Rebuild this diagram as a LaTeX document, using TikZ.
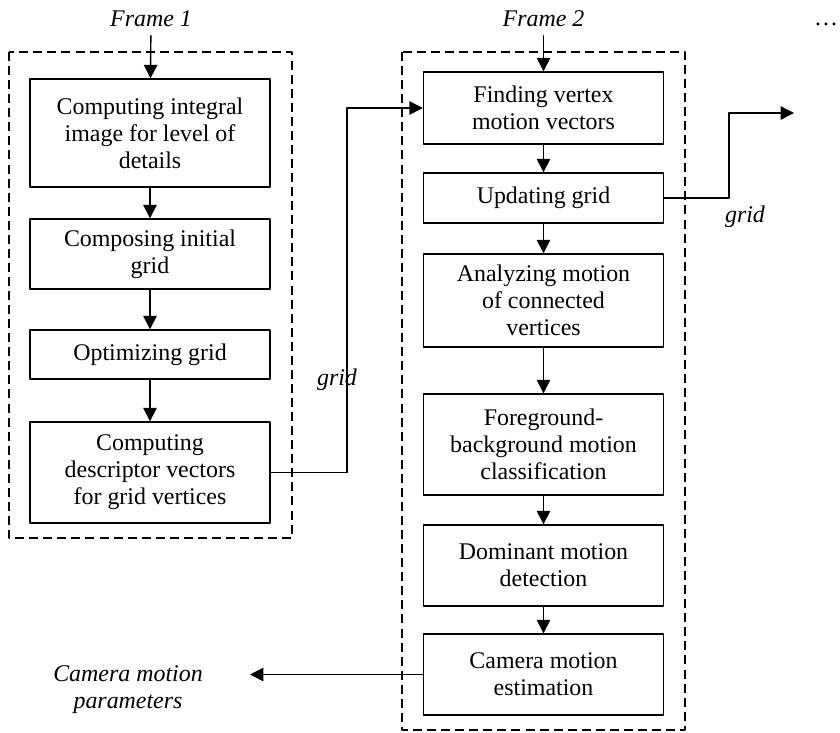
\documentclass[tikz,border=0pt]{standalone}
\usepackage{fontspec}
\setmainfont{Liberation Serif}
\usetikzlibrary{arrows.meta}

\begin{document}
\begin{tikzpicture}[x=0.025cm, y=-0.025cm, font=\fontsize{17}{19.2}\selectfont, line join=round, line cap=round, >={Triangle[length=9.5pt,width=9.5pt]},
	stage/.style={draw, line width=1pt, align=center, minimum width=6cm, inner sep=0pt},
	lbl/.style={font=\fontsize{17}{19.2}\selectfont\itshape, align=center},
	flow/.style={->, line width=1pt}]
	\useasboundingbox (0,0) rectangle (840,732);
	%%%%%%%%%%%%%%%%%%%%%%%%%%%%%%%%%
	% first frame
	\node[stage, minimum height=2.7cm] (ci) at (150,133) {Computing integral\\image for level of\\details};
	\node[stage, minimum height=1.75cm] (cg) at (150,254) {Composing initial\\grid};
	\node[stage, minimum height=1.225cm] (og) at (150,354.5) {Optimizing grid};
	\node[stage, minimum height=2.525cm] (cd) at (150,472.5) {Computing\\descriptor vectors\\for grid vertices};
	%%%%%%%%%%%%%%%%%%%%%%%%%%%%%%%%%
	% second frame
	\node[stage, minimum height=1.8cm] (fv) at (543.5,108) {Finding vertex\\motion vectors};
	\node[stage, minimum height=1.25cm] (ug) at (543.5,198) {Updating grid};
	\node[stage, minimum height=2.325cm] (am) at (543.5,300.5) {Analyzing motion\\of connected\\vertices};
	\node[stage, minimum height=2.525cm] (fb) at (543.5,444.5) {Foreground-\\background motion\\classification};
	\node[stage, minimum height=2.025cm] (dm) at (543.5,565.5) {Dominant motion\\detection};
	\node[stage, minimum height=2.025cm] (ce) at (543.5,674.5) {Camera motion\\estimation};
	%%%%%%%%%%%%%%%%%%%%%%%%%%%%%%%%%
	\node[lbl, inner sep=6pt] (fr1) at (151,19) {Frame 1};
	\node[lbl, inner sep=6pt] (fr2) at (543.5,19) {Frame 2};
	\node[inner sep=1pt] (more) at (826,24) {\ldots};
	\node[lbl] (gl1) at (337,380) {grid};
	\node[lbl] (gl2) at (745,217) {grid};
	\node[lbl] (cmp) at (128,690) {Camera motion\\parameters};
	%%%%%%%%%%%%%%%%%%%%%%%%%%%%%%%%%
	\coordinate (gturn) at (347,472.5);
	\coordinate (gbend) at (729,113);
	\coordinate (gend) at (794,113);
	\coordinate (cend) at (250,674.5);
	%%%%%%%%%%%%%%%%%%%%%%%%%%%%%%%%%
	\begin{scope}[dash pattern=on 6.4pt off 3.6pt, line width=1pt, line cap=butt]
		\draw (9,52) rectangle (292,538);
		\draw (402,52) rectangle (685,730);
	\end{scope}
	%%%%%%%%%%%%%%%%%%%%%%%%%%%%%%%%%
	\draw[flow] (fr1) -- (ci);
	\draw[flow] (ci) -- (cg);
	\draw[flow] (cg) -- (og);
	\draw[flow] (og) -- (cd);
	\draw[flow] (fr2) -- (fv);
	\draw[flow] (fv) -- (ug);
	\draw[flow] (ug) -- (am);
	\draw[flow] (am) -- (fb);
	\draw[flow] (fb) -- (dm);
	\draw[flow] (dm) -- (ce);
	\draw[flow] (cd) -- (gturn) |- (fv);
	\draw[flow] (ug.east) -| (gbend) -- (gend);
	\draw[flow] (ce) -- (cend);
	%%%%%%%%%%%%%%%%%%%%%%%%%%%%%%%%%
\end{tikzpicture}
\end{document}
